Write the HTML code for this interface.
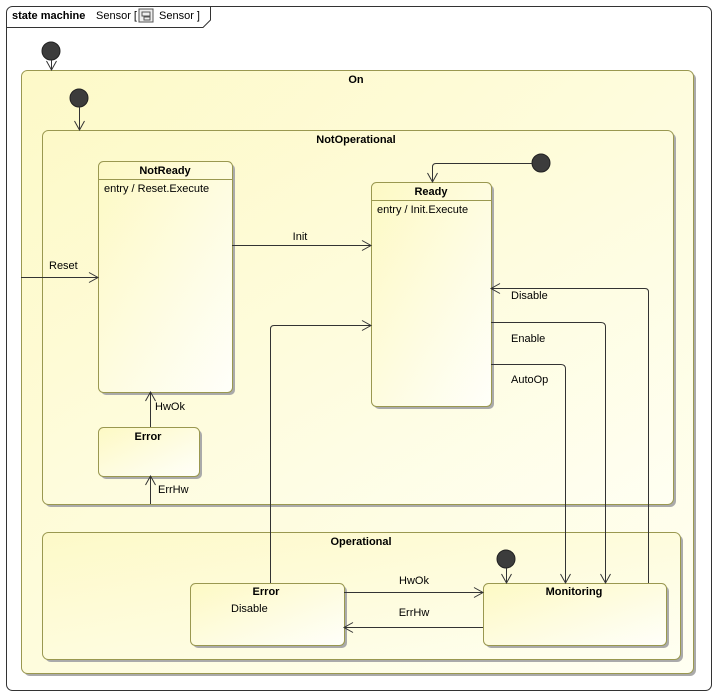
<!DOCTYPE html>
<html><head><meta charset="utf-8"><style>
html,body{margin:0;padding:0;background:#fff;}
svg{display:block;}
text{font-family:"Liberation Sans",Arial,sans-serif;font-size:11px;fill:#000;}
.b{font-weight:bold;}
</style></head><body>
<svg width="718" height="697" viewBox="0 0 718 697" xmlns="http://www.w3.org/2000/svg">
<defs>
<linearGradient id="g" x1="0" y1="0" x2="1" y2="1">
<stop offset="0" stop-color="#fdf9c4"/><stop offset="1" stop-color="#fffffa"/>
</linearGradient>
<linearGradient id="g2" x1="0" y1="0" x2="1" y2="1">
<stop offset="0" stop-color="#fdf9c8"/><stop offset="1" stop-color="#fffff2"/>
</linearGradient>
<marker id="a" markerWidth="12" markerHeight="12" refX="10" refY="6" orient="auto" markerUnits="userSpaceOnUse">
<path d="M1,1 L10,6 L1,11" fill="none" stroke="#333" stroke-width="1"/>
</marker>
</defs>
<!-- frame -->
<rect x="6.5" y="6.5" width="705" height="684" rx="6" fill="#fff" stroke="#333"/>
<path d="M6.5,27.5 H203 L210.5,20 V6.5" fill="none" stroke="#333"/>
<text x="12" y="19" class="b">state machine</text>
<text x="96" y="19">Sensor [</text>
<rect x="139" y="9" width="14" height="13" fill="#eee" stroke="#555"/>
<rect x="142" y="12" width="8" height="4" fill="none" stroke="#555"/>
<rect x="144" y="17" width="6" height="3" fill="none" stroke="#555"/>
<text x="159" y="19">Sensor ]</text>
<!-- On -->
<rect x="24" y="73" width="672" height="603" rx="6" fill="#aaa"/>
<rect x="21.5" y="70.5" width="672" height="603" rx="6" fill="url(#g2)" stroke="#9a9850"/>
<text x="356" y="83" class="b" text-anchor="middle">On</text>
<!-- NotOperational -->
<rect x="45" y="133" width="631" height="374" rx="6" fill="#aaa"/>
<rect x="42.5" y="130.5" width="631" height="374" rx="6" fill="url(#g2)" stroke="#9a9850"/>
<text x="356" y="143" class="b" text-anchor="middle">NotOperational</text>
<!-- Operational -->
<rect x="45" y="535" width="638" height="127" rx="6" fill="#aaa"/>
<rect x="42.5" y="532.5" width="638" height="127" rx="6" fill="url(#g2)" stroke="#9a9850"/>
<text x="361" y="545" class="b" text-anchor="middle">Operational</text>
<!-- NotReady -->
<rect x="101" y="164" width="134" height="231" rx="5" fill="#aaa"/>
<rect x="98.5" y="161.5" width="134" height="231" rx="5" fill="url(#g)" stroke="#9a9850"/>
<line x1="98.5" y1="179.5" x2="232.5" y2="179.5" stroke="#9a9850"/>
<text x="165" y="174" class="b" text-anchor="middle">NotReady</text>
<text x="104" y="192">entry / Reset.Execute</text>
<!-- Ready -->
<rect x="374" y="185" width="120" height="224" rx="5" fill="#aaa"/>
<rect x="371.5" y="182.5" width="120" height="224" rx="5" fill="url(#g)" stroke="#9a9850"/>
<line x1="371.5" y1="200.5" x2="491.5" y2="200.5" stroke="#9a9850"/>
<text x="431" y="195" class="b" text-anchor="middle">Ready</text>
<text x="377" y="213">entry / Init.Execute</text>
<!-- Error NotOp -->
<rect x="101" y="430" width="101" height="49" rx="5" fill="#aaa"/>
<rect x="98.5" y="427.5" width="101" height="49" rx="5" fill="url(#g)" stroke="#9a9850"/>
<text x="148" y="440" class="b" text-anchor="middle">Error</text>
<!-- Error Op -->
<rect x="193" y="586" width="154" height="62" rx="5" fill="#aaa"/>
<rect x="190.5" y="583.5" width="154" height="62" rx="5" fill="url(#g)" stroke="#9a9850"/>
<text x="266" y="595" class="b" text-anchor="middle">Error</text>
<text x="231" y="612">Disable</text>
<!-- Monitoring -->
<rect x="486" y="586" width="183" height="62" rx="5" fill="#aaa"/>
<rect x="483.5" y="583.5" width="183" height="62" rx="5" fill="url(#g)" stroke="#9a9850"/>
<text x="574" y="595" class="b" text-anchor="middle">Monitoring</text>
<!-- initials -->
<g fill="#3c3c3c" stroke="#222">
<circle cx="51" cy="51" r="9"/>
<circle cx="79" cy="98" r="9"/>
<circle cx="541" cy="163" r="9"/>
<circle cx="506" cy="559" r="9"/>
</g>
<g stroke="#333" fill="none" stroke-width="1">
<line x1="51.5" y1="60" x2="51.5" y2="70" marker-end="url(#a)"/>
<line x1="79.5" y1="107" x2="79.5" y2="130" marker-end="url(#a)"/>
<path d="M532,163.5 H436 Q432.5,163.5 432.5,167 V182" marker-end="url(#a)"/>
<line x1="506.5" y1="568" x2="506.5" y2="583" marker-end="url(#a)"/>
<line x1="232" y1="245.5" x2="371" y2="245.5" marker-end="url(#a)"/>
<line x1="21" y1="277.5" x2="98" y2="277.5" marker-end="url(#a)"/>
<line x1="150.5" y1="427" x2="150.5" y2="392" marker-end="url(#a)"/>
<line x1="150.5" y1="504" x2="150.5" y2="476" marker-end="url(#a)"/>
<path d="M270.5,583 V329 Q270.5,325.5 274,325.5 H371" marker-end="url(#a)"/>
<path d="M648.5,583 V292 Q648.5,288.5 645,288.5 H491" marker-end="url(#a)"/>
<path d="M491,322.5 H601 Q605.5,322.5 605.5,327 V583" marker-end="url(#a)"/>
<path d="M491,364.5 H561 Q565.5,364.5 565.5,369 V583" marker-end="url(#a)"/>
<line x1="344" y1="592.5" x2="483" y2="592.5" marker-end="url(#a)"/>
<line x1="483" y1="627.5" x2="344" y2="627.5" marker-end="url(#a)"/>
</g>
<text x="300" y="240" text-anchor="middle">Init</text>
<text x="49" y="269">Reset</text>
<text x="155" y="410">HwOk</text>
<text x="158" y="493">ErrHw</text>
<text x="511" y="299">Disable</text>
<text x="511" y="342">Enable</text>
<text x="511" y="383">AutoOp</text>
<text x="414" y="584" text-anchor="middle">HwOk</text>
<text x="414" y="616" text-anchor="middle">ErrHw</text>
</svg>
</body></html>
